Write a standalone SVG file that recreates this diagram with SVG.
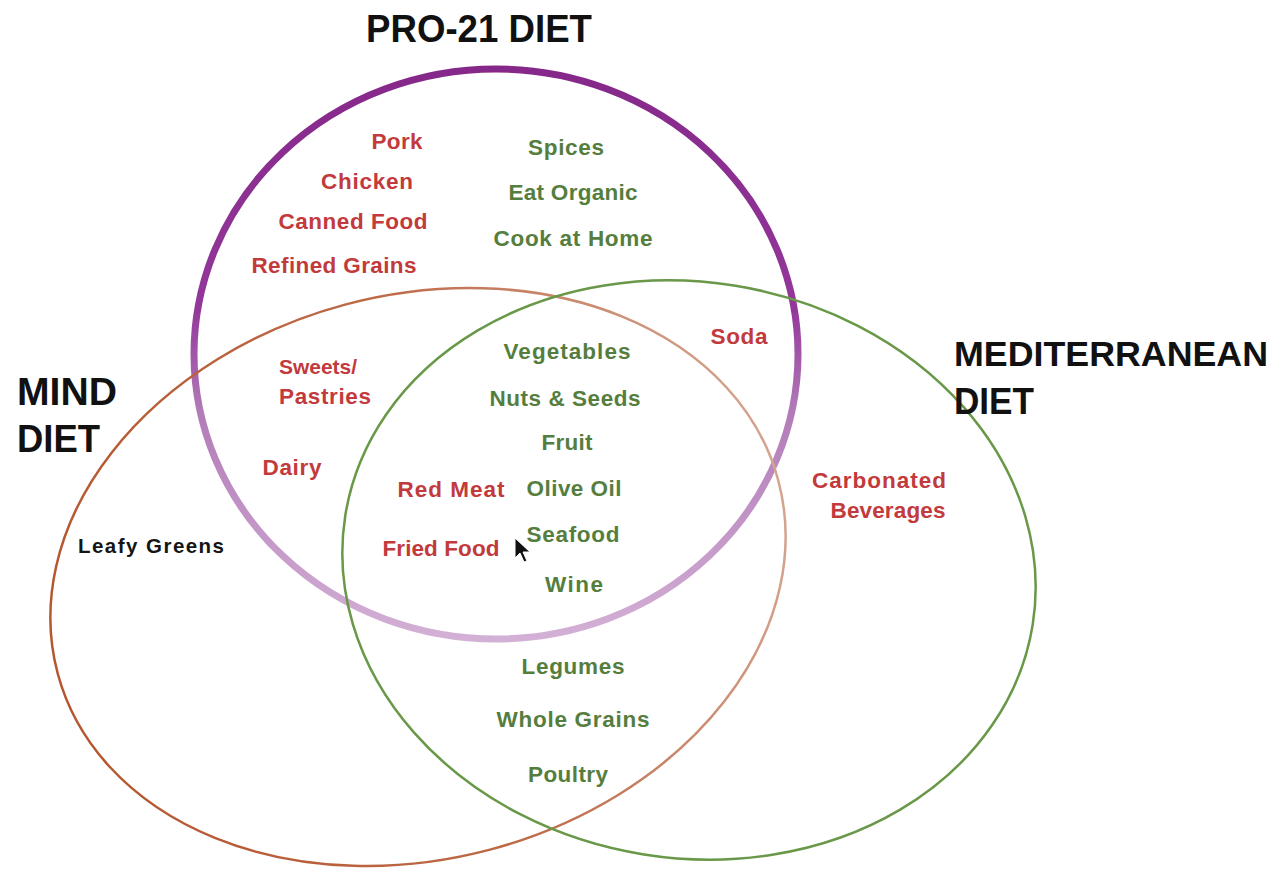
<svg xmlns="http://www.w3.org/2000/svg" width="1281" height="874" viewBox="0 0 1281 874">
<defs>
<linearGradient id="gPro" x1="0" y1="0" x2="0" y2="1">
<stop offset="0" stop-color="#85288A"/>
<stop offset="0.42" stop-color="#93379A"/>
<stop offset="0.6" stop-color="#B27BB8"/>
<stop offset="1" stop-color="#D3B0D5"/>
</linearGradient>
<linearGradient id="gMind" x1="0" y1="0" x2="1" y2="0">
<stop offset="0" stop-color="#B4572E"/>
<stop offset="0.55" stop-color="#BE6A48"/>
<stop offset="1" stop-color="#D4A48F"/>
</linearGradient>
<style>
.t{font-family:"Liberation Sans",Arial,sans-serif;font-weight:700;fill:#111;font-size:38px}
.i{font-family:"Liberation Sans",Arial,sans-serif;font-weight:700;font-size:22.5px;text-anchor:middle}
.r{fill:#C23A3C}
.g{fill:#557E3E}
.k{fill:#151515}
</style>
</defs>
<rect width="1281" height="874" fill="#ffffff"/>
<g id="set-pro21">
<ellipse cx="496" cy="354" rx="302" ry="285" fill="none" stroke="url(#gPro)" stroke-width="7"/>
<text class="t" x="366" y="42" textLength="226" lengthAdjust="spacingAndGlyphs">PRO-21 DIET</text>
</g>
<g id="set-mind">
<ellipse cx="418" cy="577" rx="373" ry="282" transform="rotate(-15 418 577)" fill="none" stroke="url(#gMind)" stroke-width="2.5"/>
<text class="t" x="17" y="405" textLength="100" lengthAdjust="spacingAndGlyphs">MIND</text>
<text class="t" x="17" y="452" textLength="83" lengthAdjust="spacingAndGlyphs">DIET</text>
</g>
<g id="set-med">
<ellipse cx="689" cy="570" rx="348" ry="288" transform="rotate(9 689 570)" fill="none" stroke="#689848" stroke-width="2.5"/>
<text class="t" x="954" y="366" textLength="314" lengthAdjust="spacingAndGlyphs" style="font-size:35.5px">MEDITERRANEAN</text>
<text class="t" x="954" y="414" textLength="80" lengthAdjust="spacingAndGlyphs" style="font-size:36px">DIET</text>
</g>
<g id="items">
<text class="i r" x="397" y="149" textLength="51">Pork</text>
<text class="i r" x="367" y="189" textLength="92">Chicken</text>
<text class="i r" x="353" y="229" textLength="149">Canned Food</text>
<text class="i r" x="334" y="273" textLength="165">Refined Grains</text>
<text class="i g" x="566" y="155" textLength="76">Spices</text>
<text class="i g" x="573" y="200" textLength="129">Eat Organic</text>
<text class="i g" x="573" y="246" textLength="159">Cook at Home</text>
<text class="i r" x="739" y="344" textLength="57">Soda</text>
<text class="i r" x="318" y="374" style="font-size:21px">Sweets/</text>
<text class="i r" x="325" y="404" textLength="92">Pastries</text>
<text class="i r" x="292" y="475" textLength="59">Dairy</text>
<text class="i g" x="567" y="359" textLength="127">Vegetables</text>
<text class="i g" x="565" y="406" textLength="151">Nuts &amp; Seeds</text>
<text class="i g" x="567" y="450" textLength="51">Fruit</text>
<text class="i r" x="451" y="497" textLength="107">Red Meat</text>
<text class="i g" x="574" y="496" textLength="95">Olive Oil</text>
<text class="i g" x="573" y="542" textLength="93">Seafood</text>
<text class="i r" x="441" y="556" textLength="117">Fried Food</text>
<text class="i g" x="574" y="592" textLength="58">Wine</text>
<text class="i g" x="573" y="674" textLength="103">Legumes</text>
<text class="i g" x="573" y="727" textLength="153">Whole Grains</text>
<text class="i g" x="568" y="782" textLength="80">Poultry</text>
<text class="i r" x="879" y="488" textLength="134">Carbonated</text>
<text class="i r" x="888" y="518" textLength="115">Beverages</text>
<text class="i k" x="151" y="553" textLength="146" style="font-size:20.5px">Leafy Greens</text>
</g>
<g id="cursor">
<polygon points="515,538 515,558 520,553 524,562 527,561 523,552 530,552" fill="#111" stroke="#fff" stroke-width="1"/>
</g>
</svg>
